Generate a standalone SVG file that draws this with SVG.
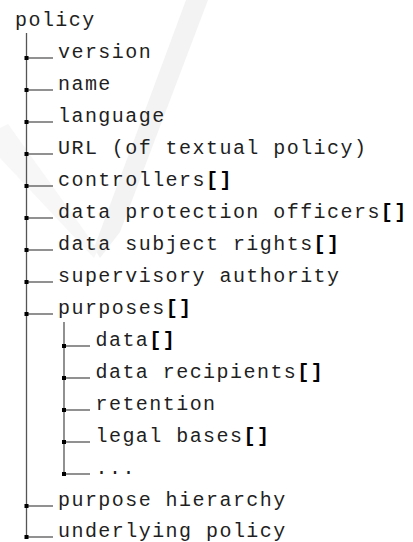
<svg xmlns="http://www.w3.org/2000/svg" width="413" height="542" viewBox="0 0 413 542">
  <style>
    .t { font-family: "Liberation Mono", "Courier New", monospace; font-size: 20px; letter-spacing: 1.45px; fill: #1f1f1f; }
    .b { font-weight: bold; fill: #000; }
    .ln { stroke: #555; stroke-width: 1.3; fill: none; }
    .sq { fill: #000; }
  </style>
  <defs>
    <rect id="jn" class="sq" x="-2" y="-2" width="4" height="4"/>
  </defs>
  <rect width="413" height="542" fill="#fff"/>
  <g id="watermark">
    <polygon points="186,0 208,0 120,232 100,258 94,248" fill="#f3f3f3"/>
    <polygon points="0,128 8,124 98,250 94,258 0,158" fill="#f7f7f7"/>
  </g>
  <g id="connectors">
    <line class="ln" x1="26.5" y1="33" x2="26.5" y2="537"/>
    <line class="ln" x1="26.5" y1="58" x2="53" y2="58"/>
    <line class="ln" x1="26.5" y1="90" x2="53" y2="90"/>
    <line class="ln" x1="26.5" y1="122" x2="53" y2="122"/>
    <line class="ln" x1="26.5" y1="154" x2="53" y2="154"/>
    <line class="ln" x1="26.5" y1="186" x2="53" y2="186"/>
    <line class="ln" x1="26.5" y1="218" x2="53" y2="218"/>
    <line class="ln" x1="26.5" y1="250" x2="53" y2="250"/>
    <line class="ln" x1="26.5" y1="282" x2="53" y2="282"/>
    <line class="ln" x1="26.5" y1="314" x2="53" y2="314"/>
    <line class="ln" x1="26.5" y1="506" x2="53" y2="506"/>
    <line class="ln" x1="26.5" y1="537" x2="53" y2="537"/>
    <line class="ln" x1="64" y1="322" x2="64" y2="474"/>
    <line class="ln" x1="64" y1="346" x2="90" y2="346"/>
    <line class="ln" x1="64" y1="378" x2="90" y2="378"/>
    <line class="ln" x1="64" y1="410" x2="90" y2="410"/>
    <line class="ln" x1="64" y1="442" x2="90" y2="442"/>
    <line class="ln" x1="64" y1="474" x2="90" y2="474"/>
    <use href="#jn" x="26.5" y="58"/>
    <use href="#jn" x="26.5" y="90"/>
    <use href="#jn" x="26.5" y="122"/>
    <use href="#jn" x="26.5" y="154"/>
    <use href="#jn" x="26.5" y="186"/>
    <use href="#jn" x="26.5" y="218"/>
    <use href="#jn" x="26.5" y="250"/>
    <use href="#jn" x="26.5" y="282"/>
    <use href="#jn" x="26.5" y="314"/>
    <use href="#jn" x="26.5" y="506"/>
    <use href="#jn" x="26.5" y="537"/>
    <use href="#jn" x="64" y="346"/>
    <use href="#jn" x="64" y="378"/>
    <use href="#jn" x="64" y="410"/>
    <use href="#jn" x="64" y="442"/>
    <use href="#jn" x="64" y="474"/>
  </g>
  <g id="n-policy"><text class="t" x="15" y="26">policy</text></g>
  <g id="n-version"><text class="t" x="58" y="58">version</text></g>
  <g id="n-name"><text class="t" x="58" y="90">name</text></g>
  <g id="n-language"><text class="t" x="58" y="122">language</text></g>
  <g id="n-url"><text class="t" x="58" y="154">URL (of textual policy)</text></g>
  <g id="n-controllers"><text class="t" x="58" y="186">controllers<tspan class="b">[]</tspan></text></g>
  <g id="n-dpo"><text class="t" x="58" y="218">data protection officers<tspan class="b">[]</tspan></text></g>
  <g id="n-dsr"><text class="t" x="58" y="250">data subject rights<tspan class="b">[]</tspan></text></g>
  <g id="n-supervisory"><text class="t" x="58" y="282">supervisory authority</text></g>
  <g id="n-purposes"><text class="t" x="58" y="314">purposes<tspan class="b">[]</tspan></text></g>
  <g id="n-data"><text class="t" x="95.5" y="346">data<tspan class="b">[]</tspan></text></g>
  <g id="n-recipients"><text class="t" x="95.5" y="378">data recipients<tspan class="b">[]</tspan></text></g>
  <g id="n-retention"><text class="t" x="95.5" y="410">retention</text></g>
  <g id="n-legal"><text class="t" x="95.5" y="442">legal bases<tspan class="b">[]</tspan></text></g>
  <g id="n-more"><text class="t" x="95.5" y="474">...</text></g>
  <g id="n-hierarchy"><text class="t" x="58" y="506">purpose hierarchy</text></g>
  <g id="n-underlying"><text class="t" x="58" y="537">underlying policy</text></g>
</svg>
